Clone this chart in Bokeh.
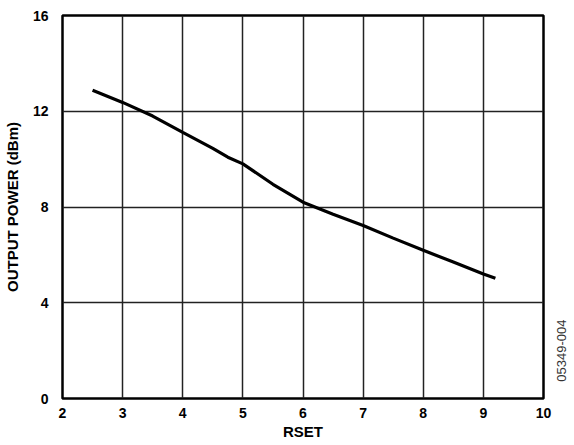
import math
from bokeh.plotting import figure
from bokeh.models import Range1d, FixedTicker, LinearAxis
from bokeh.embed import file_html
from bokeh.resources import INLINE

rset = [2.5, 3.0, 3.5, 4.0, 4.5, 4.75, 5.0, 5.5, 6.0, 6.5, 7.0, 7.5, 8.0, 8.5, 9.0, 9.2]
power_dbm = [12.88, 12.37, 11.8, 11.12, 10.45, 10.08, 9.8, 8.95, 8.2, 7.7, 7.23, 6.7, 6.19, 5.7, 5.2, 5.02]
x_ticks = [2, 3, 4, 5, 6, 7, 8, 9, 10]
y_ticks = [0, 4, 8, 12, 16]
x_label = "RSET"
y_label = "OUTPUT POWER (dBm)"
fig_id = "05349-004"
fig_id_pos = 0.7

FONT = "Liberation Sans"

p = figure(frame_width=481, frame_height=383, output_backend="svg", toolbar_location=None,
           x_range=Range1d(2, 10), y_range=Range1d(0, 16),
           min_border_left=54, min_border_top=15, min_border_right=10, min_border_bottom=44)

p.line(rset, power_dbm, line_color="black", line_width=3.2)

for ax, ticks in ((p.xaxis, x_ticks), (p.yaxis, y_ticks)):
    ax.ticker = FixedTicker(ticks=ticks)
    ax.major_label_text_font = FONT
    ax.major_label_text_font_style = "bold"
    ax.major_label_text_font_size = "14px"
    ax.major_label_text_color = "black"
    ax.axis_label_text_font = FONT
    ax.axis_label_text_font_style = "bold"
    ax.axis_label_text_font_size = "15px"
    ax.axis_label_text_color = "black"
    ax.major_tick_line_color = None
    ax.minor_tick_line_color = None
    ax.axis_line_color = None

p.xaxis.axis_label = x_label
p.yaxis.axis_label = y_label
p.xaxis.major_label_standoff = 3
p.yaxis.major_label_standoff = 8
p.xaxis.axis_label_standoff = 2
p.yaxis.axis_label_standoff = 9

p.xgrid.ticker = FixedTicker(ticks=x_ticks)
p.ygrid.ticker = FixedTicker(ticks=y_ticks)
for g in (p.xgrid, p.ygrid):
    g.grid_line_color = "#222222"
    g.grid_line_width = 1.5

p.outline_line_color = "black"
p.outline_line_width = 2.5
p.background_fill_color = "white"
p.border_fill_color = "white"

id_axis = LinearAxis(ticker=FixedTicker(ticks=[fig_id_pos]),
                     major_label_overrides={fig_id_pos: fig_id},
                     major_label_orientation=math.pi / 2,
                     major_label_standoff=12,
                     major_label_text_font=FONT, major_label_text_font_size="13px",
                     major_label_text_font_style="normal", major_label_text_color="#333333",
                     axis_line_color=None, major_tick_line_color=None, minor_tick_line_color=None)
p.add_layout(id_axis, "right")

open("out.html", "w").write(file_html(p, INLINE))
